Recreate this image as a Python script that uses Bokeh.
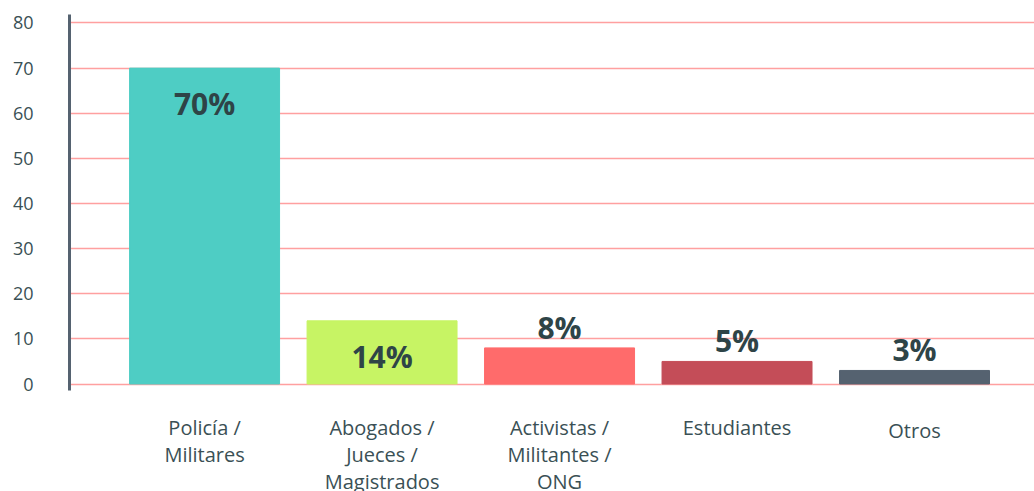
from bokeh.plotting import figure
from bokeh.models import ColumnDataSource, FixedTicker, Range1d
from bokeh.core.properties import value
from bokeh.embed import file_html
from bokeh.resources import INLINE

categories = ["Policía /\nMilitares", "Abogados /\nJueces /\nMagistrados",
              "Activistas /\nMilitantes /\nONG", "Estudiantes", "Otros"]
values = [70, 14, 8, 5, 3]
labels = ["70%", "14%", "8%", "5%", "3%"]
colors = ["#4ECDC4", "#C7F464", "#FF6B6B", "#C44D58", "#556270"]
y_ticks = [0, 10, 20, 30, 40, 50, 60, 70, 80]

xs = list(range(len(categories)))
label_y = [v - 7.9 if v >= 10 else v + 4.6 for v in values]
cat_label_y = [-6.7, -6.7, -6.7, -6.7, -7.4]

src = ColumnDataSource(dict(x=xs, top=values, color=colors, lab=labels, ly=label_y,
                            cat=categories, cy=cat_label_y))

p = figure(width=1034, height=491, output_backend="svg", toolbar_location=None,
           x_range=Range1d(-0.761, 4.676), y_range=Range1d(-23.82, 81.88),
           min_border_left=69, min_border_right=0, min_border_top=14,
           min_border_bottom=0)
p.outline_line_color = None
p.background_fill_color = "white"
p.border_fill_color = "white"

p.vbar(x="x", top="top", bottom=0, width=0.845, color="color", source=src)
p.text(x="x", y="ly", text="lab", source=src, text_align="center",
       text_baseline="middle", text_font=value("Open Sans"), text_font_style="bold",
       text_font_size="30px", text_color="#2E4447")

# category labels (multi-line) below the bars
p.text(x="x", y="cy", text="cat", source=src, text_align="center",
       text_baseline="top", text_font=value("Open Sans"),
       text_font_size="20px", text_line_height=1.0, text_color="#3A5055")

# y axis
ya = p.yaxis[0]
ya.ticker = FixedTicker(ticks=y_ticks)
ya.bounds = (-1.44, 81.88)
ya.axis_line_color = "#556270"
ya.axis_line_width = 3
ya.major_tick_line_color = None
ya.minor_tick_line_color = None
ya.major_label_text_font = "Open Sans"
ya.major_label_text_font_size = "18px"
ya.major_label_text_color = "#3A5055"
ya.major_label_standoff = 30

p.xaxis.visible = False

p.xgrid.grid_line_color = None
p.ygrid.ticker = FixedTicker(ticks=y_ticks)
p.ygrid.grid_line_color = "#FF8080"
p.ygrid.grid_line_alpha = 0.75
p.ygrid.grid_line_width = 1.5

open("out.html", "w").write(file_html(p, INLINE))
